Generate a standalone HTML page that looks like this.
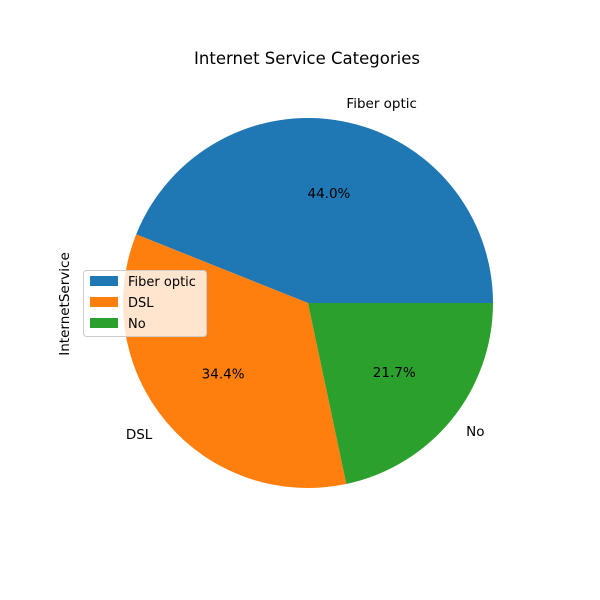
<!DOCTYPE html>
<html><head><meta charset="utf-8"><style>
body{margin:0;background:#fff;}
svg{display:block;font-family:"DejaVu Sans","Liberation Sans",sans-serif;}
</style></head><body>
<svg id="chart" width="600" height="600">
<text x="307" y="64" font-size="16.5" text-anchor="middle">Internet Service Categories</text>
<text transform="translate(69,304) rotate(-90)" font-size="13.5" text-anchor="middle">InternetService</text>
<g id="slices"></g>
<g>
<rect x="83.5" y="270.5" width="123" height="66" rx="3" fill="#fff" fill-opacity="0.8" stroke="#ccc"></rect>
<g id="legend-items"></g>
</g>
</svg>
<script>
const categories = ["Fiber optic", "DSL", "No"];
const values = [44.0, 34.4, 21.7];
const colors = ["#1f77b4", "#ff7f0e", "#2ca02c"];
const cx = 308, cy = 303, r = 185;
const ns = "http://www.w3.org/2000/svg";
const g = document.getElementById("slices");
const total = values.reduce((a, b) => a + b, 0);
let a0 = 0;
function pt(a, rr) { return [cx + rr * Math.cos(a), cy - rr * Math.sin(a)]; }
values.forEach((v, i) => {
  const a1 = a0 + v / total * 2 * Math.PI;
  const p0 = pt(a0, r), p1 = pt(a1, r);
  const large = (a1 - a0) > Math.PI ? 1 : 0;
  const path = document.createElementNS(ns, "path");
  path.setAttribute("d", `M${cx},${cy} L${p0[0]},${p0[1]} A${r},${r} 0 ${large} 0 ${p1[0]},${p1[1]} Z`);
  path.setAttribute("fill", colors[i]);
  
  
  g.appendChild(path);
  const mid = (a0 + a1) / 2;
  const lp = pt(mid, r * 1.1);
  const lab = document.createElementNS(ns, "text");
  lab.setAttribute("x", lp[0]); lab.setAttribute("y", lp[1] + 5);
  lab.setAttribute("font-size", "13.5");
  lab.setAttribute("text-anchor", Math.cos(mid) >= 0 ? "start" : "end");
  lab.textContent = categories[i];
  
  
  g.appendChild(lab);
  const pp = pt(mid, r * 0.6);
  const pc = document.createElementNS(ns, "text");
  pc.setAttribute("x", pp[0]); pc.setAttribute("y", pp[1] + 4);
  pc.setAttribute("font-size", "13.5");
  pc.setAttribute("text-anchor", "middle");
  pc.textContent = (v / total * 100).toFixed(1) + "%";
  
  
  g.appendChild(pc);
  a0 = a1;
});
const lg = document.getElementById("legend-items");
categories.forEach((c, i) => {
  const y = 276 + i * 21;
  const rect = document.createElementNS(ns, "rect");
  rect.setAttribute("x", 90); rect.setAttribute("y", y);
  rect.setAttribute("width", 28); rect.setAttribute("height", 10);
  rect.setAttribute("fill", colors[i]);
  
  
  lg.appendChild(rect);
  const t = document.createElementNS(ns, "text");
  t.setAttribute("x", 128); t.setAttribute("y", y + 10);
  t.setAttribute("font-size", "13");
  t.textContent = c;
  
  
  lg.appendChild(t);
});
</script>
</body></html>
